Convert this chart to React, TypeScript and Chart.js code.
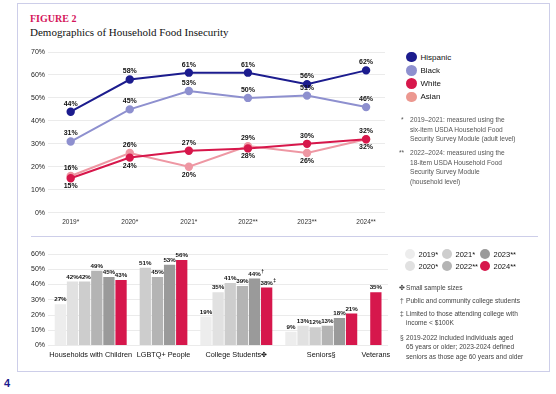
import React, { useEffect, useRef } from "react";
import { Chart, registerables } from "chart.js";

Chart.register(...registerables);

// ---------- Line chart data ----------
const years = ["2019*", "2020*", "2021*", "2022**", "2023**", "2024**"];
const hispanic = [44, 58, 61, 61, 56, 62];
const black = [31, 45, 53, 50, 51, 46];
const white = [15, 24, 27, 28, 30, 32];
const asian = [16, 26, 20, 29, 26, 32];
const hispanicLabelPos = ["above", "above", "above", "above", "above", "above"];
const blackLabelPos = ["above", "above", "above", "above", "above", "above"];
const whiteLabelPos = ["below", "below", "above", "below", "above", "above"];
const asianLabelPos = ["above", "above", "below", "above", "below", "below"];
const lineSeriesNames = ["Hispanic", "Black", "White", "Asian"];
const lineColors = ["#1c1c8e", "#8e90cf", "#d7174b", "#ee97a3"];
const lineLegendColors = ["#1c1c8e", "#8e90cf", "#d7174b", "#ec9890"];

// ---------- Bar chart data ----------
const groupNames = ["Households with Children", "LGBTQ+ People", "College Students\u2724", "Seniors\u00a7", "Veterans"];
const households = [27, 42, 42, 49, 45, 43];
const lgbtq = [null, null, 51, 45, 53, 56];
const college = [19, 35, 41, 39, 44, 38];
const seniors = [9, 13, 12, 13, 18, 21];
const veterans = [null, null, null, null, null, 35];
const collegeMarks = ["", "", "", "", "\u2020", "\u2021"];
const noMarks = ["", "", "", "", "", ""];
const yearColors = ["#ededed", "#e1e1e1", "#cdcdcd", "#b4b4b4", "#9a9a9a", "#d6174c"];

const FONT = "'Liberation Sans', Arial, sans-serif";

export default function App() {
  const lineRef = useRef<HTMLCanvasElement>(null);
  const barRef = useRef<HTMLCanvasElement>(null);

  useEffect(() => {
    const lineSeries = [hispanic, black, white, asian];
    const labelPos = [hispanicLabelPos, blackLabelPos, whiteLabelPos, asianLabelPos];

    const lineLabelPlugin = {
      id: "lineLabels",
      afterDatasetsDraw(chart: any) {
        const ctx = chart.ctx;
        ctx.save();
        ctx.font = `bold 7px ${FONT}`;
        ctx.fillStyle = "#111";
        ctx.textAlign = "center";
        ctx.textBaseline = "middle";
        chart.data.datasets.forEach((ds: any, i: number) => {
          const meta = chart.getDatasetMeta(i);
          meta.data.forEach((el: any, j: number) => {
            const v = ds.data[j].y;
            const dy = labelPos[i][j] === "above" ? -8 : 8;
            ctx.fillText(`${v}%`, el.x, el.y + dy);
          });
        });
        ctx.restore();
      },
    };

    const lineChart = new Chart(lineRef.current!, {
      type: "line",
      data: {
        datasets: lineSeries.map((s, i) => ({
          label: lineSeriesNames[i],
          data: s.map((v, j) => ({ x: j, y: v })),
          borderColor: lineColors[i],
          backgroundColor: lineColors[i],
          pointBackgroundColor: lineColors[i],
          pointBorderColor: lineColors[i],
          borderWidth: 2,
          pointRadius: 3.2,
          tension: 0,
        })),
      },
      options: {
        animation: false,
        responsive: false,
        layout: { padding: { top: 12, right: 10, left: 0, bottom: 0 } },
        plugins: { legend: { display: false }, tooltip: { enabled: false } },
        scales: {
          x: {
            type: "linear",
            min: -0.384,
            max: 5.32,
            offset: false,
            grid: { display: false, drawTicks: false },
            border: { display: false },
            afterBuildTicks: (axis: any) => {
              axis.ticks = years.map((_, i) => ({ value: i }));
            },
            afterFit: (scale: any) => {
              scale.height = 19.3;
            },
            ticks: {
              autoSkip: false,
              maxRotation: 0,
              minRotation: 0,
              padding: 5.5,
              color: "#333",
              font: { family: FONT, size: 6.5 },
              callback: (v: any) => years[Math.round(Number(v))],
            },
          },
          y: {
            min: 0,
            max: 70,
            grid: { color: "#ebebeb", drawTicks: false, lineWidth: 1 },
            border: { display: false },
            afterFit: (scale: any) => {
              scale.width = 28;
            },
            ticks: {
              stepSize: 10,
              padding: 3,
              color: "#222",
              font: { family: FONT, size: 7 },
              callback: (v: any) => `${v}%`,
            },
          },
        },
      },
      plugins: [lineLabelPlugin],
    });

    // Build bar slots from groups
    const groups = [households, lgbtq, college, seniors, veterans];
    const groupMarks = [noMarks, noMarks, collegeMarks, noMarks, noMarks];
    const barPoints: { x: number; y: number }[] = [];
    const barColors: string[] = [];
    const barMarks: string[] = [];
    const groupCenters: number[] = [];
    let slot = 0;
    groups.forEach((g, gi) => {
      const start = slot;
      g.forEach((v, yi) => {
        if (v !== null) {
          barPoints.push({ x: slot, y: v as number });
          barColors.push(yearColors[yi]);
          barMarks.push(groupMarks[gi][yi]);
          slot++;
        }
      });
      groupCenters.push((start + slot - 1) / 2);
      slot++;
    });

    const barLabelPlugin = {
      id: "barLabels",
      afterDatasetsDraw(chart: any) {
        const ctx = chart.ctx;
        ctx.save();
        ctx.fillStyle = "#111";
        ctx.textBaseline = "bottom";
        const meta = chart.getDatasetMeta(0);
        meta.data.forEach((el: any, j: number) => {
          const txt = `${barPoints[j].y}%`;
          ctx.font = `bold 6.2px ${FONT}`;
          ctx.textAlign = "center";
          const w = ctx.measureText(txt).width;
          ctx.fillText(txt, el.x, el.y - 1.5);
          if (barMarks[j]) {
            ctx.font = `bold 5px ${FONT}`;
            ctx.textAlign = "left";
            ctx.fillText(barMarks[j], el.x + w / 2 + 0.5, el.y - 4);
          }
        });
        ctx.restore();
      },
    };

    const barChart = new Chart(barRef.current!, {
      type: "bar",
      data: {
        datasets: [
          {
            data: barPoints,
            backgroundColor: barColors,
            borderWidth: 0,
            categoryPercentage: 1,
            barPercentage: 0.93,
          },
        ],
      },
      options: {
        animation: false,
        responsive: false,
        layout: { padding: { top: 10, right: 12, left: 0, bottom: 0 } },
        plugins: { legend: { display: false }, tooltip: { enabled: false } },
        scales: {
          x: {
            type: "linear",
            min: -1.02,
            max: 27,
            offset: false,
            grid: { display: false, offset: false, drawTicks: false },
            border: { display: false },
            afterBuildTicks: (axis: any) => {
              axis.ticks = groupCenters.map((c) => ({ value: c }));
            },
            afterFit: (scale: any) => {
              scale.height = 18.5;
            },
            ticks: {
              autoSkip: false,
              maxRotation: 0,
              minRotation: 0,
              padding: 5.5,
              color: "#111",
              font: { family: FONT, size: 7.3 },
              callback: (v: any) => {
                const idx = groupCenters.findIndex((c) => Math.abs(c - Number(v)) < 0.01);
                return idx >= 0 ? groupNames[idx] : "";
              },
            },
          },
          y: {
            min: 0,
            max: 60,
            grid: { color: "#ebebeb", drawTicks: false },
            border: { display: false },
            afterFit: (scale: any) => {
              scale.width = 28;
            },
            ticks: {
              stepSize: 10,
              padding: 3,
              color: "#222",
              font: { family: FONT, size: 7 },
              callback: (v: any) => `${v}%`,
            },
          },
        },
      },
      plugins: [barLabelPlugin],
    });

    return () => {
      lineChart.destroy();
      barChart.destroy();
    };
  }, []);

  const abs = (l: number, t: number, extra: any = {}) => ({
    position: "absolute" as const,
    left: l,
    top: t,
    ...extra,
  });

  const noteStyle = {
    fontFamily: FONT,
    fontSize: 6.6,
    color: "#555",
    lineHeight: "9.6px",
    whiteSpace: "nowrap" as const,
  };
  const barNoteStyle = { ...noteStyle, color: "#444", lineHeight: "9.4px" };

  const barLegendCols = [
    [0, 1],
    [2, 3],
    [4, 5],
  ];
  const colX = [410, 447, 485];

  return (
    <div style={{ position: "absolute", left: 0, top: 0, width: 556, height: 394, background: "#fff" }}>
      <div style={abs(17, 3, { width: 533, height: 369, border: "1px solid #cdcee9", boxSizing: "border-box" })} />
      <div style={abs(31, 236, { width: 507, height: 1, background: "#cdcee9" })} />
      <div style={abs(30, 12, { fontFamily: "'Liberation Serif', serif", fontWeight: "bold", fontSize: 10, color: "#d4145a", lineHeight: "13px" })}>
        FIGURE 2
      </div>
      <div style={abs(30, 25, { fontFamily: "'Liberation Serif', serif", fontSize: 11, color: "#111", lineHeight: "14px", whiteSpace: "nowrap" })}>
        Demographics of Household Food Insecurity
      </div>
      <canvas ref={lineRef} width={375} height={192} style={abs(20, 40, { width: 375, height: 192 })} />
      <canvas ref={barRef} width={380} height={120} style={abs(20, 244, { width: 380, height: 120 })} />

      {lineSeriesNames.map((n, i) => (
        <div key={n} style={abs(406, 51.5 + i * 13.3, { display: "flex", alignItems: "center", height: 11 })}>
          <span style={{ width: 10.5, height: 10.5, borderRadius: 6, background: lineLegendColors[i], display: "inline-block" }} />
          <span style={{ marginLeft: 4, fontFamily: FONT, fontSize: 8, color: "#111" }}>{n}</span>
        </div>
      ))}

      <div style={abs(401, 115, noteStyle)}>*</div>
      <div style={abs(410, 115, noteStyle)}>
        2019–2021: measured using the
        <br />
        six-item USDA Household Food
        <br />
        Security Survey Module (adult level)
      </div>
      <div style={abs(399, 148, noteStyle)}>**</div>
      <div style={abs(410, 148, noteStyle)}>
        2022–2024: measured using the
        <br />
        18-item USDA Household Food
        <br />
        Security Survey Module
        <br />
        (household level)
      </div>

      {barLegendCols.map((col, ci) =>
        col.map((yi, ri) => (
          <div key={yi} style={abs(colX[ci] - 5, 248.5 + ri * 12, { display: "flex", alignItems: "center", height: 11 })}>
            <span style={{ width: 10, height: 10, borderRadius: 5, background: yearColors[yi], display: "inline-block" }} />
            <span style={{ marginLeft: 3.5, fontFamily: FONT, fontSize: 7.5, color: "#111" }}>{years[yi]}</span>
          </div>
        ))
      )}

      <div style={abs(399, 283, barNoteStyle)}>{"\u2724"}</div>
      <div style={abs(406, 283, barNoteStyle)}>Small sample sizes</div>
      <div style={abs(400, 296, barNoteStyle)}>{"\u2020"}</div>
      <div style={abs(406, 296, barNoteStyle)}>Public and community college students</div>
      <div style={abs(400, 308.5, barNoteStyle)}>{"\u2021"}</div>
      <div style={abs(406, 308.5, barNoteStyle)}>
        Limited to those attending college with
        <br />
        income &lt; $100K
      </div>
      <div style={abs(400, 333, barNoteStyle)}>{"\u00a7"}</div>
      <div style={abs(406, 333, barNoteStyle)}>
        2019-2022 included individuals aged
        <br />
        65 years or older; 2023-2024 defined
        <br />
        seniors as those age 60 years and older
      </div>

      <div style={abs(4, 377, { fontFamily: FONT, fontWeight: "bold", fontSize: 11, color: "#1c1c8e", lineHeight: "13px" })}>4</div>
    </div>
  );
}
